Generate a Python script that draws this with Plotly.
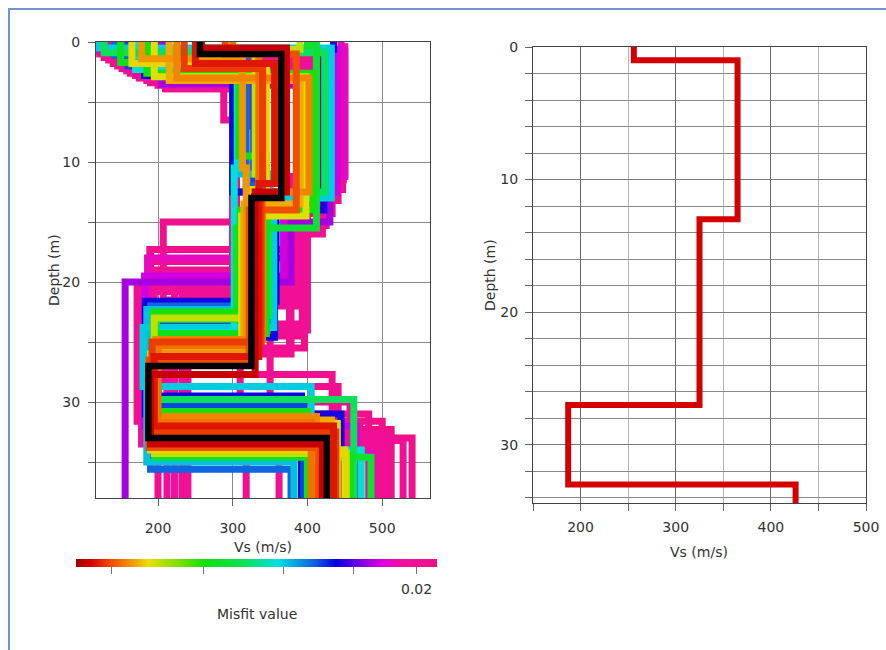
import plotly.graph_objects as go
from plotly.colors import sample_colorscale
import math

# ---------------- data ----------------
# ensemble of inverted Vs profiles (5 layers each), misfit per profile
misfit = [0.0207, 0.0206, 0.0206, 0.0205, 0.0205, 0.0204, 0.0204, 0.0203, 0.0203, 0.0202,
          0.0202, 0.0201, 0.0200, 0.0200, 0.0199, 0.0201, 0.0200, 0.0199, 0.0198,
          0.0192, 0.0185, 0.0188,
          0.0176, 0.0174, 0.0170, 0.0168,
          0.0161, 0.0160, 0.0158,
          0.0150, 0.0145, 0.0142, 0.0140,
          0.0130, 0.0128, 0.0127,
          0.0125, 0.0124, 0.0123, 0.0122,
          0.0120, 0.0119, 0.0117, 0.0115]
vs_layer1 = [118, 128, 140, 152, 163, 212, 214, 122, 134, 146, 158, 175, 190, 200, 210, 170, 185, 150, 165,
             445, 205, 122,
             435, 182, 160, 142,
             175, 120, 170,
             128, 400, 150, 185,
             390, 195, 165,
             215, 178, 225, 300,
             290, 235, 250, 258]
vs_layer2 = [450, 447, 441, 433, 425, 327, 288, 448, 444, 437, 430, 420, 300, 446, 320, 438, 305, 440, 435,
             450, 430, 440,
             422, 300, 328, 318,
             310, 432, 306,
             423, 412, 308, 408,
             330, 398, 345,
             390, 313, 402, 335,
             385, 340, 356, 372]
vs_layer3 = [397, 393, 390, 378, 396, 303, 305, 380, 376, 400, 395, 385, 305, 385, 300, 300, 300, 392, 388,
             372, 378, 368,
             358, 356, 352, 345,
             350, 355, 302,
             348, 305, 345, 310,
             335, 312, 320,
             315, 318, 340, 330,
             322, 338, 335, 330]
vs_layer4 = [190, 200, 172, 185, 215, 207, 189, 232, 200, 310, 350, 178, 195, 215, 240, 188, 186, 212, 222,
             186, 156, 182,
             183, 198, 192, 190,
             185, 180, 195,
             198, 196, 197, 194,
             195, 194, 190,
             195, 193, 197, 200,
             188, 192, 195, 190]
vs_layer5 = [540, 512, 500, 482, 457, 441, 433, 232, 200, 318, 362, 492, 528, 505, 240, 470, 495, 212, 222,
             486, 156, 465,
             445, 392, 395, 378,
             382, 405, 472,
             462, 485, 458, 400,
             452, 440, 450,
             432, 408, 412, 405,
             415, 438, 435, 420]
depth_if1 = [0.8, 1.3, 1.8, 2.2, 2.6, 3.9, 3.8, 1.0, 1.5, 2.0, 2.4, 3.0, 3.4, 3.6, 3.9, 2.8, 3.2, 1.9, 2.5,
             0.4, 3.5, 0.6,
             0.6, 2.8, 2.0, 1.1,
             2.1, 0.5, 2.3,
             0.9, 0.3, 1.7, 2.6,
             0.6, 2.9, 1.8,
             3.2, 1.4, 3.0, 0.8,
             1.0, 2.2, 1.8, 0.5]
depth_if2 = [11.0, 12.3, 13.2, 14.3, 15.3, 6.5, 6.5, 11.5, 12.0, 12.8, 13.8, 16.0, 8.0, 12.0, 7.0, 12.5, 9.0, 12.2, 13.0,
             11.2, 15.0, 12.5,
             14.0, 12.5, 13.0, 12.0,
             11.0, 13.0, 10.5,
             12.5, 15.5, 9.5, 14.0,
             11.0, 14.5, 12.3,
             13.5, 10.5, 12.5, 13.0,
             14.0, 12.0, 11.8, 12.5]
depth_if3 = [17.3, 24.5, 20.5, 26.0, 25.5, 15.0, 17.3, 21.0, 25.8, 24.0, 23.5, 20.8, 19.0, 22.0, 20.5, 18.3, 19.6, 21.5, 20.2,
             18.0, 20.0, 19.5,
             21.6, 24.6, 23.4, 22.0,
             22.3, 23.8, 24.2,
             22.8, 23.1, 24.3, 22.5,
             23.0, 25.0, 26.0,
             25.4, 26.0, 24.8, 25.3,
             26.5, 25.0, 26.2, 27.7]
depth_if4 = [33.0, 32.3, 31.6, 31.0, 30.0, 28.7, 27.7, 40.0, 40.0, 34.5, 34.0, 33.5, 33.2, 32.8, 40.0, 31.8, 33.6, 40.0, 40.0,
             34.2, 40.0, 32.0,
             31.0, 29.5, 30.3, 35.6,
             35.0, 28.7, 34.0,
             29.8, 34.6, 34.4, 30.8,
             34.3, 31.8, 34.0,
             31.5, 32.0, 31.2, 31.7,
             33.8, 32.5, 32.0, 33.5]

# best (minimum misfit) model
best_vs = [256, 365, 325, 187, 426]
best_depth = [1, 13, 27, 33]
bottom_depth = 40

# colorbar (misfit) ticks
misfit_min, misfit_max = 0.0113, 0.0207
cb_tick_values = [0.012, 0.014, 0.016, 0.018, 0.02]
cb_label_value = 0.02
cb_label_text = "0.02"

# ---------------- styling ----------------
W, H = 886, 650
colorscale = [[0.0, '#9a0000'], [0.04, '#d80000'], [0.10, '#f05000'], [0.16, '#f0a000'],
              [0.20, '#e8e000'], [0.28, '#80e000'], [0.36, '#10e010'], [0.46, '#10e050'],
              [0.56, '#00e0e0'], [0.66, '#1060e0'], [0.72, '#0000e0'], [0.79, '#8000e0'],
              [0.85, '#e000e0'], [0.90, '#f010a0'], [1.0, '#f0108a']]
lmin, lmax = math.log10(misfit_min), math.log10(misfit_max)
FONT = "DejaVu Sans"
TXT = "#333333"
CB_X0, CB_LEN = 76, 361


def frac(m):
    return min(1.0, max(0.0, (math.log10(m) - lmin) / (lmax - lmin)))


def profile_xy(vs, dep):
    xs = list(vs) + [vs[-1]]
    ys = [0] + list(dep) + [bottom_depth]
    return xs, ys


fig = go.Figure()

order = sorted(range(len(misfit)), key=lambda i: -misfit[i])
for i in order:
    vs = [vs_layer1[i], vs_layer2[i], vs_layer3[i], vs_layer4[i], vs_layer5[i]]
    dep = [depth_if1[i], depth_if2[i], depth_if3[i], depth_if4[i]]
    xs, ys = profile_xy(vs, dep)
    col = sample_colorscale(colorscale, [frac(misfit[i])])[0]
    fig.add_trace(go.Scatter(x=xs, y=ys, mode='lines', line=dict(color=col, width=7, shape='vh'),
                             xaxis='x', yaxis='y', showlegend=False, hoverinfo='skip'))

bx, by = profile_xy(best_vs, best_depth)
fig.add_trace(go.Scatter(x=bx, y=by, mode='lines', line=dict(color='black', width=6.5, shape='vh'),
                         xaxis='x', yaxis='y', showlegend=False))

# colorbar carrier
fig.add_trace(go.Scatter(
    x=[None], y=[None], mode='markers', xaxis='x', yaxis='y', showlegend=False,
    marker=dict(color=[lmin], cmin=lmin, cmax=lmax, colorscale=colorscale, showscale=True,
                colorbar=dict(orientation='h', x=CB_X0 / W, xanchor='left', y=1 - 559 / H, yanchor='top',
                              len=CB_LEN, lenmode='pixels', thickness=8, thicknessmode='pixels',
                              xpad=0, ypad=0, outlinewidth=0,
                              tickvals=[math.log10(v) for v in cb_tick_values],
                              ticktext=[""] * len(cb_tick_values),
                              ticks='outside', ticklen=7, tickcolor='#777', tickwidth=1,
                              tickfont=dict(family=FONT, size=14, color=TXT)))))

# right panel: best profile
fig.add_trace(go.Scatter(x=bx, y=by, mode='lines', line=dict(color='#d40000', width=6, shape='vh'),
                         xaxis='x2', yaxis='y2', showlegend=False))

axis_common = dict(showline=True, mirror=True, linecolor='#444', linewidth=1, ticks='outside',
                   ticklen=7, tickcolor='#666', zeroline=False,
                   tickfont=dict(family=FONT, size=14, color=TXT))
title_font = dict(family=FONT, size=14, color=TXT)

cb_label_x = CB_X0 + CB_LEN * frac(cb_label_value)

fig.update_layout(
    width=W, height=H, margin=dict(l=0, r=0, t=0, b=0, autoexpand=False),
    paper_bgcolor='white', plot_bgcolor='white',
    xaxis=dict(domain=[96 / W, 430 / W], range=[117, 564], dtick=100, tick0=0,
               gridcolor='#8a8a8a', gridwidth=1, ticklabelstandoff=10,
               anchor='y', **axis_common),
    yaxis=dict(domain=[1 - 498 / H, 1 - 42 / H], range=[38, 0], dtick=10, tick0=0,
               gridcolor='#8a8a8a', gridwidth=1, ticklabelstandoff=5,
               minor=dict(dtick=5, showgrid=True, gridcolor='#8a8a8a', ticks='outside', ticklen=7,
                          tickcolor='#666'),
               anchor='x', **axis_common),
    xaxis2=dict(domain=[533 / W, 866 / W], range=[150, 500], dtick=100, tick0=0,
                gridcolor='#6a6a6a', gridwidth=1, ticklabelstandoff=4,
                minor=dict(dtick=50, showgrid=True, gridcolor='#b8b8b8', ticks='outside', ticklen=7,
                           tickcolor='#666'),
                anchor='y2', **axis_common),
    yaxis2=dict(domain=[1 - 503 / H, 1 - 47 / H], range=[34.4, 0], dtick=10, tick0=0,
                gridcolor='#7a7a7a', gridwidth=1, ticklabelstandoff=4,
                minor=dict(dtick=2, showgrid=True, gridcolor='#8a8a8a', ticks='outside', ticklen=7,
                           tickcolor='#666'),
                anchor='x2', **axis_common),
    annotations=[
        dict(text=cb_label_text, xref='paper', yref='paper', x=cb_label_x / W, y=1 - 589 / H,
             xanchor='center', yanchor='middle', showarrow=False, font=title_font),
        dict(text='Misfit value', xref='paper', yref='paper', x=257 / W, y=1 - 614 / H,
             xanchor='center', yanchor='middle', showarrow=False, font=title_font),
        dict(text='Vs (m/s)', xref='paper', yref='paper', x=263 / W, y=1 - 547 / H,
             xanchor='center', yanchor='middle', showarrow=False, font=title_font),
        dict(text='Vs (m/s)', xref='paper', yref='paper', x=699 / W, y=1 - 552 / H,
             xanchor='center', yanchor='middle', showarrow=False, font=title_font),
        dict(text='Depth (m)', xref='paper', yref='paper', x=54 / W, y=1 - 270 / H, textangle=-90,
             xanchor='center', yanchor='middle', showarrow=False, font=title_font),
        dict(text='Depth (m)', xref='paper', yref='paper', x=490 / W, y=1 - 275 / H, textangle=-90,
             xanchor='center', yanchor='middle', showarrow=False, font=title_font),
    ],
    shapes=[dict(type='rect', xref='paper', yref='paper', x0=9 / W, x1=1.02, y0=-0.05, y1=1 - 9 / H,
                 line=dict(color='#6f92d2', width=2), fillcolor='rgba(0,0,0,0)', layer='below')],
)

fig.write_html("out.html", config={'displayModeBar': False},
               post_script="document.documentElement.style.margin='0';document.body.style.margin='0';"
                           "document.documentElement.style.overflow='hidden';document.body.style.overflow='hidden';"
                           "var gd=document.getElementById('{plot_id}');gd.style.position='absolute';"
                           "gd.style.top='0px';gd.style.left='0px';")
